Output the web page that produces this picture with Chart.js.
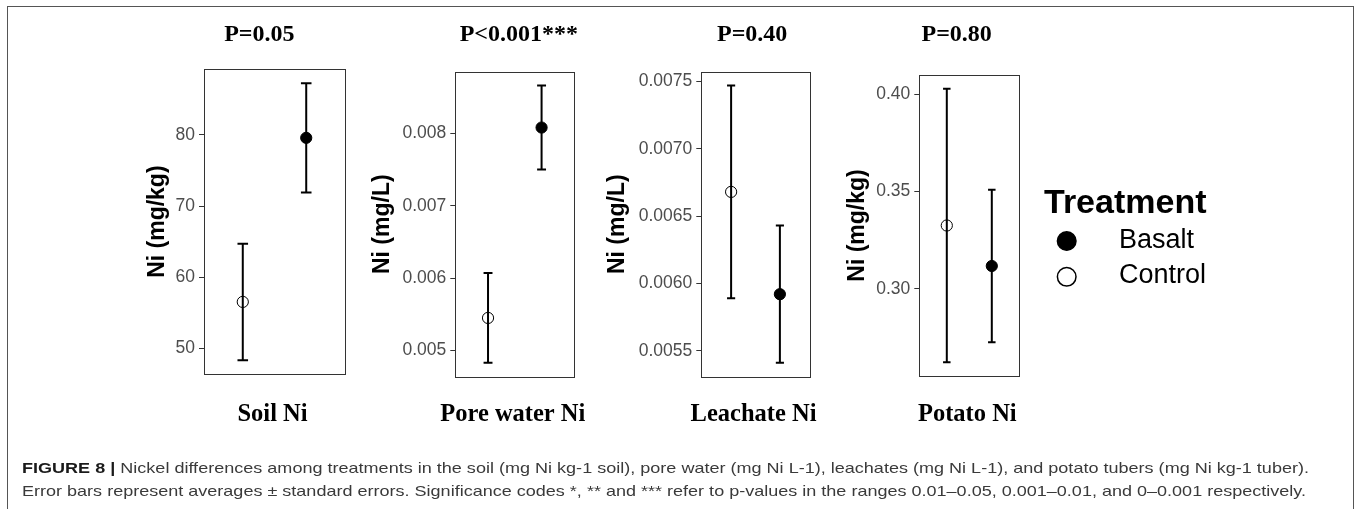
<!DOCTYPE html>
<html>
<head>
<meta charset="utf-8">
<script src="https://cdn.jsdelivr.net/npm/chart.js@4.4.1/dist/chart.umd.min.js"></script>
<style>
  body { margin:0; background:#fff; width:1358px; height:509px; overflow:hidden; position:relative; font-family:'Liberation Sans', Arial, sans-serif; }
  .frame { position:absolute; left:7px; top:6px; width:1347px; height:600px; border:1px solid #555; box-sizing:border-box; }
  canvas.panel { position:absolute; left:0; top:0; }
  .cap { position:absolute; left:22px; white-space:nowrap; font-size:15px; line-height:18px; color:#3a3a3a; transform-origin:0 0; }
  .cap b { color:#1a1a1a; }
</style>
</head>
<body>
<div class="frame"></div>
<canvas id="chart0" class="panel" width="1358" height="509"></canvas>
<canvas id="chart1" class="panel" width="1358" height="509"></canvas>
<canvas id="chart2" class="panel" width="1358" height="509"></canvas>
<canvas id="chart3" class="panel" width="1358" height="509"></canvas>
<div class="cap" id="cap1" style="top:459px"><b>FIGURE 8 |</b> Nickel differences among treatments in the soil (mg Ni kg-1 soil), pore water (mg Ni L-1), leachates (mg Ni L-1), and potato tubers (mg Ni kg-1 tuber).</div>
<div class="cap" id="cap2" style="top:482px">Error bars represent averages ± standard errors. Significance codes *, ** and *** refer to p-values in the ranges 0.01–0.05, 0.001–0.01, and 0–0.001 respectively.</div>
<script>
// data
var panelNames = ['Soil Ni', 'Pore water Ni', 'Leachate Ni', 'Potato Ni'];
var pValues = ['P=0.05', 'P<0.001***', 'P=0.40', 'P=0.80'];
var yTitles = ['Ni (mg/kg)', 'Ni (mg/L)', 'Ni (mg/L)', 'Ni (mg/kg)'];
var treatments = ['Basalt', 'Control'];
var basaltMean = [79.6, 0.00808, 0.00592, 0.3118];
var basaltSE = [7.7, 0.00058, 0.00051, 0.0392];
var controlMean = [56.5, 0.00545, 0.00668, 0.3326];
var controlSE = [8.2, 0.00062, 0.00079, 0.0703];
var yTicks = [
  [50, 60, 70, 80],
  [0.005, 0.006, 0.007, 0.008],
  [0.0055, 0.0060, 0.0065, 0.0070, 0.0075],
  [0.30, 0.35, 0.40]
];
var tickDecimals = [0, 3, 4, 2];

// where each panel box sits on the page
var boxes = [
  {left: 204, right: 345, top: 69.3, bottom: 374, yTitleX: 157.5, titleX: 259.3},
  {left: 455.3, right: 574.3, top: 71.7, bottom: 376.7, yTitleX: 383, titleX: 518.8},
  {left: 701.3, right: 809.7, top: 71.7, bottom: 376.7, yTitleX: 618, titleX: 752.2},
  {left: 919.3, right: 1019.3, top: 75, bottom: 376, yTitleX: 857.8, titleX: 956.7}
];
var W = 1358, H = 509;
var dodge = 0.27, capHalf = 0.045;
var sans = 'Liberation Sans', serif = 'Liberation Serif';

// error bars drawn on the chart's own scales
var errorBars = {
  id: 'errorBars',
  afterDatasetsDraw: function(chart) {
    var ctx = chart.ctx, xs = chart.scales.x, ys = chart.scales.y;
    ctx.save();
    ctx.strokeStyle = '#000';
    ctx.lineWidth = 2;
    chart.data.datasets.forEach(function(ds) {
      ds.data.forEach(function(p) {
        var x = xs.getPixelForValue(p.x);
        var c0 = xs.getPixelForValue(p.x - capHalf), c1 = xs.getPixelForValue(p.x + capHalf);
        var yLo = ys.getPixelForValue(p.lo), yHi = ys.getPixelForValue(p.hi);
        ctx.beginPath();
        ctx.moveTo(x, yHi); ctx.lineTo(x, yLo);
        ctx.moveTo(c0, yHi); ctx.lineTo(c1, yHi);
        ctx.moveTo(c0, yLo); ctx.lineTo(c1, yLo);
        ctx.stroke();
      });
    });
    ctx.restore();
  }
};

// panel box, P value heading and panel name underneath
var panelFrame = {
  id: 'panelFrame',
  afterDraw: function(chart, args, opts) {
    var a = chart.chartArea, ctx = chart.ctx;
    ctx.save();
    ctx.strokeStyle = '#333';
    ctx.lineWidth = 1;
    var l = Math.round(a.left) + 0.5, t = Math.round(a.top) + 0.5;
    ctx.strokeRect(l, t, Math.round(a.right) - Math.round(a.left), Math.round(a.bottom) - Math.round(a.top));
    ctx.fillStyle = '#000';
    ctx.font = 'bold 24px "' + serif + '"';
    ctx.textAlign = 'center';
    ctx.textBaseline = 'alphabetic';
    ctx.fillText(opts.text, opts.x, 40.7);
    ctx.font = 'bold 24.5px "' + serif + '"';
    ctx.fillText(opts.name, (a.left + a.right) / 2 - 2, 421);
    ctx.restore();
  }
};

// Treatment legend, only on the last panel
var treatmentLegend = {
  id: 'treatmentLegend',
  afterDraw: function(chart) {
    var ctx = chart.ctx, x0 = chart.chartArea.right;
    var rows = [241, 276.8];
    ctx.save();
    ctx.fillStyle = '#000';
    ctx.textAlign = 'left';
    ctx.textBaseline = 'alphabetic';
    ctx.font = 'bold 34px "' + sans + '"';
    ctx.fillText('Treatment', x0 + 24.7, 213.3);
    ctx.font = '27px "' + sans + '"';
    chart.data.datasets.forEach(function(ds, k) {
      ctx.beginPath();
      ctx.arc(x0 + 47.4, rows[k], 9.3, 0, Math.PI * 2);
      ctx.fillStyle = ds.pointBackgroundColor;
      ctx.fill();
      ctx.lineWidth = 1.5;
      ctx.strokeStyle = ds.pointBorderColor;
      ctx.stroke();
      ctx.fillStyle = '#000';
      ctx.fillText(ds.label, x0 + 99.7, rows[k] + 6.5);
    });
    ctx.restore();
  }
};

function range(i) {
  var lo = Math.min(basaltMean[i] - basaltSE[i], controlMean[i] - controlSE[i]);
  var hi = Math.max(basaltMean[i] + basaltSE[i], controlMean[i] + controlSE[i]);
  var pad = (hi - lo) * 0.05;
  return [lo - pad, hi + pad];
}

for (var i = 0; i < 4; i++) {
  (function(i) {
    var b = boxes[i];
    var padL = b.yTitleX - 23 * 1.2 / 2;
    var r = range(i);
    var plugins = [errorBars, panelFrame];
    if (i === 3) plugins.push(treatmentLegend);
    new Chart(document.getElementById('chart' + i), {
      type: 'scatter',
      data: {
        datasets: [{
          label: treatments[0],
          data: [{x: 1 + dodge, y: basaltMean[i], lo: basaltMean[i] - basaltSE[i], hi: basaltMean[i] + basaltSE[i]}],
          pointRadius: 5.6,
          pointBackgroundColor: '#000',
          pointBorderColor: '#000',
          pointBorderWidth: 1
        }, {
          label: treatments[1],
          data: [{x: 1 - dodge, y: controlMean[i], lo: controlMean[i] - controlSE[i], hi: controlMean[i] + controlSE[i]}],
          pointRadius: 5.6,
          pointBackgroundColor: 'rgba(255,255,255,0)',
          pointBorderColor: '#000',
          pointBorderWidth: 1
        }]
      },
      options: {
        responsive: false,
        animation: false,
        devicePixelRatio: 1,
        layout: {padding: {left: padL, top: b.top, right: W - b.right, bottom: H - b.bottom}},
        plugins: {
          legend: {display: false},
          tooltip: {enabled: false},
          panelFrame: {text: pValues[i], name: panelNames[i], x: b.titleX}
        },
        scales: {
          x: {
            type: 'linear', min: 0.4, max: 1.6,
            display: false
          },
          y: {
            min: r[0], max: r[1],
            afterBuildTicks: function(s) { s.ticks = yTicks[i].map(function(v) { return {value: v}; }); },
            afterFit: function(s) { s.width = b.left - padL; },
            ticks: {color: '#4d4d4d', padding: 4, font: {family: sans, size: 17.5},
              callback: function(v) { return Number(v).toFixed(tickDecimals[i]); }},
            grid: {drawOnChartArea: false, color: '#333', tickLength: 5},
            border: {display: false},
            title: {display: true, text: yTitles[i], color: '#000', padding: 0,
              font: {family: sans, size: 23, weight: 'bold'}}
          }
        }
      },
      plugins: plugins
    });
  })(i);
}

// fit caption lines to the reference widths
[['cap1', 1287], ['cap2', 1284]].forEach(function(c) {
  var el = document.getElementById(c[0]);
  var w = el.getBoundingClientRect().width;
  el.style.transform = 'scaleX(' + (c[1] / w) + ')';
});
</script>
</body>
</html>
